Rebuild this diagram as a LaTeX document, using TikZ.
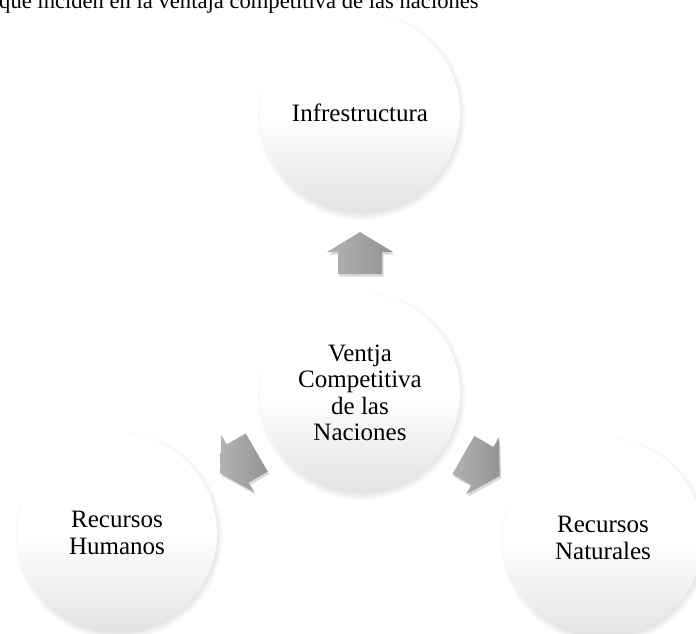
\documentclass[tikz,border=0pt]{standalone}
\usepackage{fontspec}
\setmainfont{Liberation Serif}
\usetikzlibrary{shadows,calc}

\begin{document}
\begin{tikzpicture}[x=1pt,y=-1pt,
        ballnode/.style={circle,minimum size=200pt,inner sep=0pt,align=center,
            top color=white,bottom color=black!11,middle color=white,
            circular drop shadow={shadow xshift=1.5pt,shadow yshift=-2.5pt,shadow scale=1.045,opacity=0.4},
            font=\fontsize{25}{26.5}\selectfont},
        blockarrow/.style={left color=black!30,right color=black!42,
            drop shadow={shadow xshift=1.5pt,shadow yshift=-2.5pt,opacity=0.3}}]
        \useasboundingbox (0,0) rectangle (696,633);
        \clip (0,0) rectangle (696,633);
        \coordinate (vc) at (360,393);
        \coordinate (inf) at (360,113);
        \coordinate (rh) at (117,533);
        \coordinate (rn) at (603,538);
        \node[anchor=base west,inner sep=0pt,font=\fontsize{22.6}{24}\selectfont] (titulo) at (-1,8) {que inciden en la ventaja competitiva de las naciones};
        \node[ballnode] (Infra) at (inf) {Infrestructura};
        \node[ballnode] (Ventaja) at (vc) {Ventja\\Competitiva\\de las\\Naciones};
        \node[ballnode] (Humanos) at (rh) {Recursos\\Humanos};
        \node[ballnode] (Naturales) at (rn) {Recursos\\Naturales};
        \foreach \ang/\tgt in {90/inf,210/rh,-30/rn}{
            \coordinate (m\tgt) at ($(vc)!0.5!(\tgt)$);
            \path[blockarrow,shift={(m\tgt)},rotate=\ang] (21,0) -- (1,33) -- (1,22) -- (-21,22)
                -- (-21,-22) -- (1,-22) -- (1,-33) -- cycle;
        }
\end{tikzpicture}
\end{document}
